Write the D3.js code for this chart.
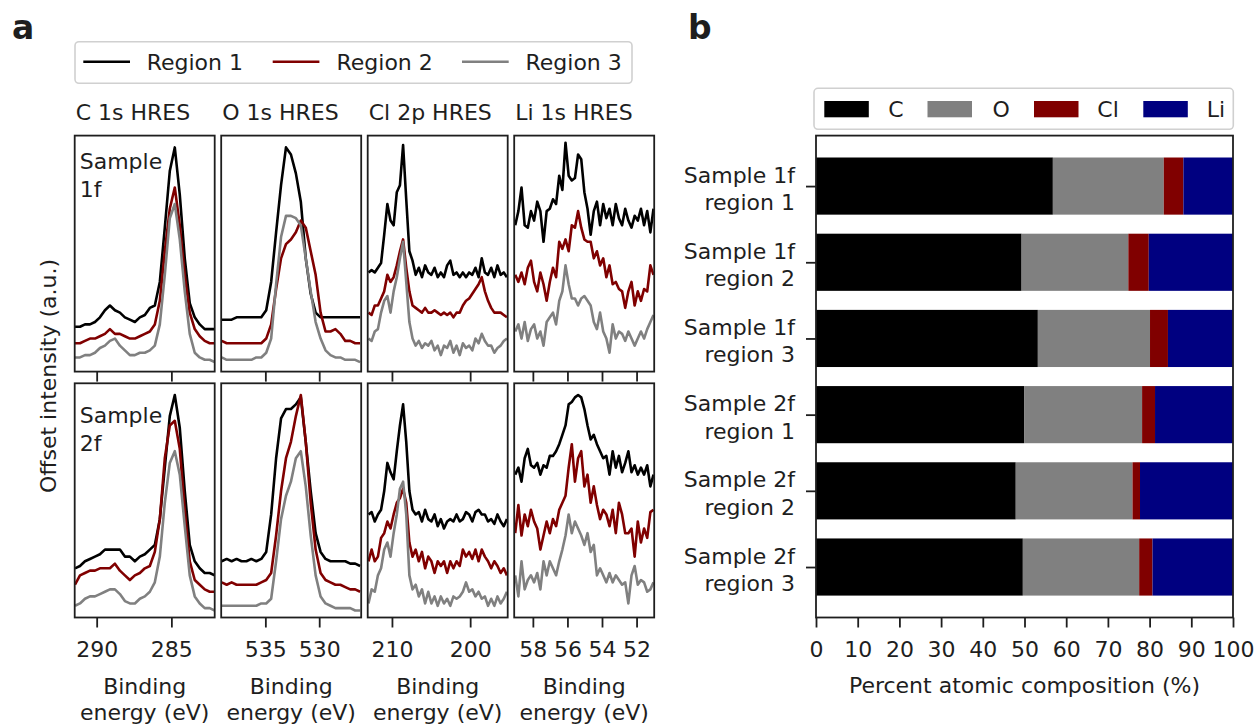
<!DOCTYPE html>
<html><head><meta charset="utf-8">
<script src="https://cdn.jsdelivr.net/npm/d3@7/dist/d3.min.js"></script>
<style>body{margin:0;background:#fff}svg text{font-family:"DejaVu Sans",sans-serif}</style>
</head><body><svg id="chart" width="1257" height="726"></svg>
<script>
// ---------------- DATA ----------------
const regions = ["Region 1", "Region 2", "Region 3"];
const regionColors = ["#000000", "#800000", "#808080"];
const spectraTitles = ["C 1s HRES", "O 1s HRES", "Cl 2p HRES", "Li 1s HRES"];
const sampleNames = [["Sample", "1f"], ["Sample", "2f"]];
// recorded energy range of each spectrum (eV), and axis limits
const energyRanges = [[291.45, 282.1], [539.05, 526.2], [213.0, 195.3], [59.02, 51.02]];
const axisLimits = [[291.47, 282.1], [539.1, 526.1], [213.1, 195.2], [59.08, 50.98]];
const energyTicks = [[290, 285], [535, 530], [210, 200], [58, 56, 54, 52]];

// offset intensities (a.u., normalised 0..100 within each panel), [region1, region2, region3]
const c1s_1f = [
  [19,19,20,20,21,23,26,28,26,25,23,22,21,23,24,27,28,38,61,85,95,75,48,29,23,20,18,18,18],
  [12,12,13,14,14,15,16,18,16,16,15,14,14,15,16,17,20,30,51,69,78,62,41,25,18,15,13,12,12],
  [6,6,7,7,8,10,11,13,14,11,9,7,7,8,8,9,11,20,41,65,71,56,34,16,8,6,5,5,4]
];
const o1s_1f = [
  [22,22,22,23,23,23,23,23,23,26,38,59,79,95,92,84,72,48,33,25,23,23,23,23,23,23,23,23,23],
  [13,12,12,12,12,12,12,12,12,14,20,35,48,54,56,59,64,61,51,41,25,17,17,18,16,13,13,12,12],
  [6,5,5,5,5,5,5,6,6,8,14,37,57,66,66,65,62,48,34,21,14,9,7,6,6,5,5,5,4]
];
const cl2p_1f = [
  [42,43,42,44,46,58,71,64,62,76,79,96,73,51,47,41,44,40,45,42,41,44,40,42,40,45,47,41,42,40,42,40,42,41,44,40,48,42,41,44,40,45,41,42,40],
  [25,24,28,28,31,34,41,38,40,45,51,56,44,34,28,27,26,25,27,25,25,26,25,24,25,24,25,23,25,25,28,30,31,33,35,37,40,34,30,27,25,25,25,24,23],
  [14,13,17,18,25,30,32,25,34,40,48,55,38,21,14,11,13,10,12,11,13,9,11,7,11,10,13,8,11,7,12,10,11,9,14,12,16,13,11,11,8,10,11,13,14]
];
const li1s_1f = [
  [62,68,78,62,61,68,64,72,68,55,68,69,73,71,83,77,97,83,81,82,92,90,76,69,58,68,72,62,71,65,69,62,71,65,62,69,64,61,66,64,69,62,68,59,69],
  [41,38,42,37,44,47,38,34,42,37,30,38,44,40,55,52,56,51,62,61,68,61,56,55,55,48,51,45,48,40,45,37,38,35,34,27,34,38,28,34,30,35,34,45,41],
  [17,20,14,21,13,18,20,14,17,11,21,23,25,20,30,34,45,37,31,31,28,31,32,30,28,21,18,25,17,14,8,20,14,17,16,13,17,14,11,14,17,14,18,21,24]
];
const c1s_2f = [
  [21,22,24,25,26,27,29,29,29,29,26,26,24,26,27,29,31,42,64,86,95,81,54,31,24,21,19,19,18],
  [14,18,19,20,20,21,21,21,23,20,18,16,18,19,21,22,28,42,68,82,84,72,46,24,16,14,12,11,11],
  [5,6,8,9,9,10,11,12,12,10,7,6,6,8,9,11,15,26,49,66,71,61,39,18,9,6,4,4,3]
];
const o1s_2f = [
  [24,25,24,25,24,24,25,24,25,28,44,68,85,89,89,91,94,75,54,36,28,25,24,24,24,24,23,23,22],
  [15,14,15,14,14,14,14,14,15,16,19,35,54,68,75,86,95,75,49,29,19,16,15,14,14,13,12,12,11],
  [5,5,5,5,5,5,5,5,6,6,8,24,42,52,58,68,71,56,35,18,9,6,5,4,4,4,4,3,3]
];
const cl2p_2f = [
  [44,45,41,44,46,54,66,62,59,71,82,91,75,54,46,44,45,41,46,42,41,44,39,42,38,41,42,41,44,41,42,45,44,41,45,46,44,44,41,42,40,44,41,39,42],
  [24,29,24,26,34,36,41,38,44,49,51,55,49,32,26,29,24,28,21,26,24,19,24,22,24,19,24,21,24,22,29,26,28,25,29,24,29,26,24,21,24,22,19,21,18],
  [6,12,11,18,21,29,32,26,36,44,55,58,44,18,12,14,9,12,6,11,6,9,5,9,6,8,5,9,8,9,11,15,11,12,9,11,8,9,5,8,5,9,6,8,11]
];
const li1s_2f = [
  [61,64,58,68,72,65,64,66,61,65,64,69,69,71,74,78,82,91,92,94,95,94,89,82,76,78,74,71,68,69,61,71,64,69,62,66,71,62,65,61,64,61,65,56,61],
  [36,48,35,44,39,46,41,38,29,35,41,36,42,39,46,49,52,64,74,58,68,71,56,61,49,56,48,42,46,44,39,46,36,49,44,36,36,38,26,41,32,38,34,45,46],
  [18,9,24,12,16,18,15,19,12,24,18,24,21,18,24,29,35,44,36,41,38,35,31,36,28,31,18,21,18,15,19,15,18,16,14,15,6,18,22,14,16,15,11,12,15]
];
const spectra = [[c1s_1f, o1s_1f, cl2p_1f, li1s_1f], [c1s_2f, o1s_2f, cl2p_2f, li1s_2f]];

// panel b
const compCategories = [["Sample 1f","region 1"],["Sample 1f","region 2"],["Sample 1f","region 3"],
                        ["Sample 2f","region 1"],["Sample 2f","region 2"],["Sample 2f","region 3"]];
const elements = ["C", "O", "Cl", "Li"];
const elementColors = ["#000000", "#808080", "#800000", "#000080"];
const pctC  = [56.8, 49.3, 53.2, 49.9, 47.9, 49.6];
const pctO  = [26.6, 25.6, 26.9, 28.3, 28.0, 27.9];
const pctCl = [4.7, 4.9, 4.3, 3.1, 1.8, 3.2];
const pctLi = [11.9, 20.2, 15.6, 18.7, 22.3, 19.3];
const pctTicks = [0,10,20,30,40,50,60,70,80,90,100];

// ---------------- DRAW ----------------
const svg = d3.select("#chart");
const ink = "#1e1e1e";
const FS = 22;

function styleAxis(g){
  g.attr("font-family", "DejaVu Sans").attr("font-size", FS);
  g.select(".domain").remove();
  g.selectAll(".tick line").attr("stroke", ink).attr("stroke-width", 1.8);
  g.selectAll(".tick text").attr("fill", ink);
}

// panel labels
svg.append("text").attr("x", 12).attr("y", 39).attr("font-size", 33).attr("font-weight", "bold").attr("fill", ink).text("a");
svg.append("text").attr("x", 688).attr("y", 39).attr("font-size", 33).attr("font-weight", "bold").attr("fill", ink).text("b");

// ---- panel a ----
const colX = [74.7, 221.2, 367.7, 514.2], panelW = 140;
const rowTop = [135.6, 383.3], rowBot = [371.6, 617.5];
const defs = svg.append("defs");

rowTop.forEach((top, r) => {
  colX.forEach((x0, c) => {
    const x = d3.scaleLinear().domain(axisLimits[c]).range([x0, x0 + panelW]);
    const y = d3.scaleLinear().domain([0, 100]).range([rowBot[r], top]);
    const id = `clip-${r}-${c}`;
    defs.append("clipPath").attr("id", id).append("rect")
      .attr("x", x0).attr("y", top).attr("width", panelW).attr("height", rowBot[r] - top);
    const g = svg.append("g").attr("clip-path", `url(#${id})`);
    const series = spectra[r][c];
    series.forEach((vals, k) => {
      const n = vals.length, e = energyRanges[c];
      const pts = vals.map((v, i) => [e[0] + (e[1] - e[0]) * i / (n - 1), v]);
      g.append("path").datum(pts)
        .attr("fill", "none").attr("stroke", regionColors[k]).attr("stroke-width", 2.6)
        .attr("stroke-linejoin", "round")
        .attr("d", d3.line().x(d => x(d[0])).y(d => y(d[1])));
    });
    svg.append("rect").attr("x", x0).attr("y", top).attr("width", panelW).attr("height", rowBot[r] - top)
      .attr("fill", "none").attr("stroke", ink).attr("stroke-width", 1.8);
    const ax = svg.append("g").attr("transform", `translate(0,${rowBot[r]})`)
      .call(d3.axisBottom(x).tickValues(energyTicks[c]).tickSize(10).tickPadding(14)
        .tickFormat(r === 1 ? d3.format("d") : () => ""));
    styleAxis(ax);
    if (r === 0) {
      svg.append("text").attr("x", x0 + 1).attr("y", 119.5).attr("font-size", FS).attr("fill", ink).text(spectraTitles[c]);
    } else {
      const t = svg.append("text").attr("text-anchor", "middle").attr("font-size", FS).attr("fill", ink);
      t.append("tspan").attr("x", x0 + panelW / 2).attr("y", 694).text("Binding");
      t.append("tspan").attr("x", x0 + panelW / 2).attr("y", 720).text("energy (eV)");
    }
    if (c === 0) {
      const s = svg.append("text").attr("font-size", FS).attr("fill", ink);
      s.append("tspan").attr("x", x0 + 5).attr("y", top + (r === 0 ? 33.5 : 40)).text(sampleNames[r][0]);
      s.append("tspan").attr("x", x0 + 5).attr("y", top + (r === 0 ? 61.5 : 68)).text(sampleNames[r][1]);
    }
  });
});

svg.append("text").attr("transform", "translate(55.5,376) rotate(-90)").attr("text-anchor", "middle")
  .attr("font-size", FS).attr("fill", ink).text("Offset intensity (a.u.)");

// legend a
svg.append("rect").attr("x", 75).attr("y", 41.7).attr("width", 557).attr("height", 41.6).attr("rx", 4)
  .attr("fill", "#fff").attr("stroke", "#d0d0d0").attr("stroke-width", 1.6);
const legA = [[83.3, 146.7], [272.7, 336.5], [462, 525.5]];
regions.forEach((name, k) => {
  svg.append("line").attr("x1", legA[k][0]).attr("x2", legA[k][0] + 46.7).attr("y1", 61.7).attr("y2", 61.7)
    .attr("stroke", regionColors[k]).attr("stroke-width", 2.6);
  svg.append("text").attr("x", legA[k][1]).attr("y", 70).attr("font-size", FS).attr("fill", ink).text(name);
});

// ---- panel b ----
const bx0 = 816, bx1 = 1233, by0 = 135.6, by1 = 617.5;
const xb = d3.scaleLinear().domain([0, 100]).range([bx0, bx1]);
const yb = d3.scaleLinear().domain([-0.6625, 5.6625]).range([by0, by1]);
const barH = 0.75;
const table = compCategories.map((cat, i) => ({i, C: pctC[i], O: pctO[i], Cl: pctCl[i], Li: pctLi[i]}));
const stacked = d3.stack().keys(elements)(table);
stacked.forEach((layer, k) => {
  svg.append("g").selectAll("rect").data(layer).join("rect")
    .attr("x", d => xb(d[0])).attr("width", d => xb(d[1]) - xb(d[0]))
    .attr("y", d => yb(d.data.i - barH / 2)).attr("height", d => yb(barH / 2) - yb(-barH / 2))
    .attr("fill", elementColors[k]);
});
svg.append("rect").attr("x", bx0).attr("y", by0).attr("width", bx1 - bx0).attr("height", by1 - by0)
  .attr("fill", "none").attr("stroke", ink).attr("stroke-width", 1.8);
const axb = svg.append("g").attr("transform", `translate(0,${by1})`)
  .call(d3.axisBottom(xb).tickValues(pctTicks).tickSize(10).tickPadding(14).tickFormat(d3.format("d")));
styleAxis(axb);
const ayb = svg.append("g").attr("transform", `translate(${bx0},0)`)
  .call(d3.axisLeft(yb).tickValues(d3.range(compCategories.length)).tickSize(10).tickFormat(() => ""));
styleAxis(ayb);
compCategories.forEach((cat, i) => {
  const t = svg.append("text").attr("text-anchor", "end").attr("font-size", FS).attr("fill", ink);
  t.append("tspan").attr("x", 795).attr("y", yb(i) - 3.5).text(cat[0]);
  t.append("tspan").attr("x", 795).attr("y", yb(i) + 24).text(cat[1]);
});
svg.append("text").attr("x", (bx0 + bx1) / 2).attr("y", 693).attr("text-anchor", "middle")
  .attr("font-size", FS).attr("fill", ink).text("Percent atomic composition (%)");

// legend b
svg.append("rect").attr("x", 814).attr("y", 88.3).attr("width", 419.3).attr("height", 41).attr("rx", 4)
  .attr("fill", "#fff").attr("stroke", "#d0d0d0").attr("stroke-width", 1.6);
const legB = [[824.3, 888.3], [927.5, 992.5], [1034, 1097.3], [1143.3, 1206.7]];
elements.forEach((name, k) => {
  svg.append("rect").attr("x", legB[k][0]).attr("y", 101).attr("width", 44.5).attr("height", 16.3).attr("fill", elementColors[k]);
  svg.append("text").attr("x", legB[k][1]).attr("y", 117).attr("font-size", FS).attr("fill", ink).text(name);
});
</script></body></html>
